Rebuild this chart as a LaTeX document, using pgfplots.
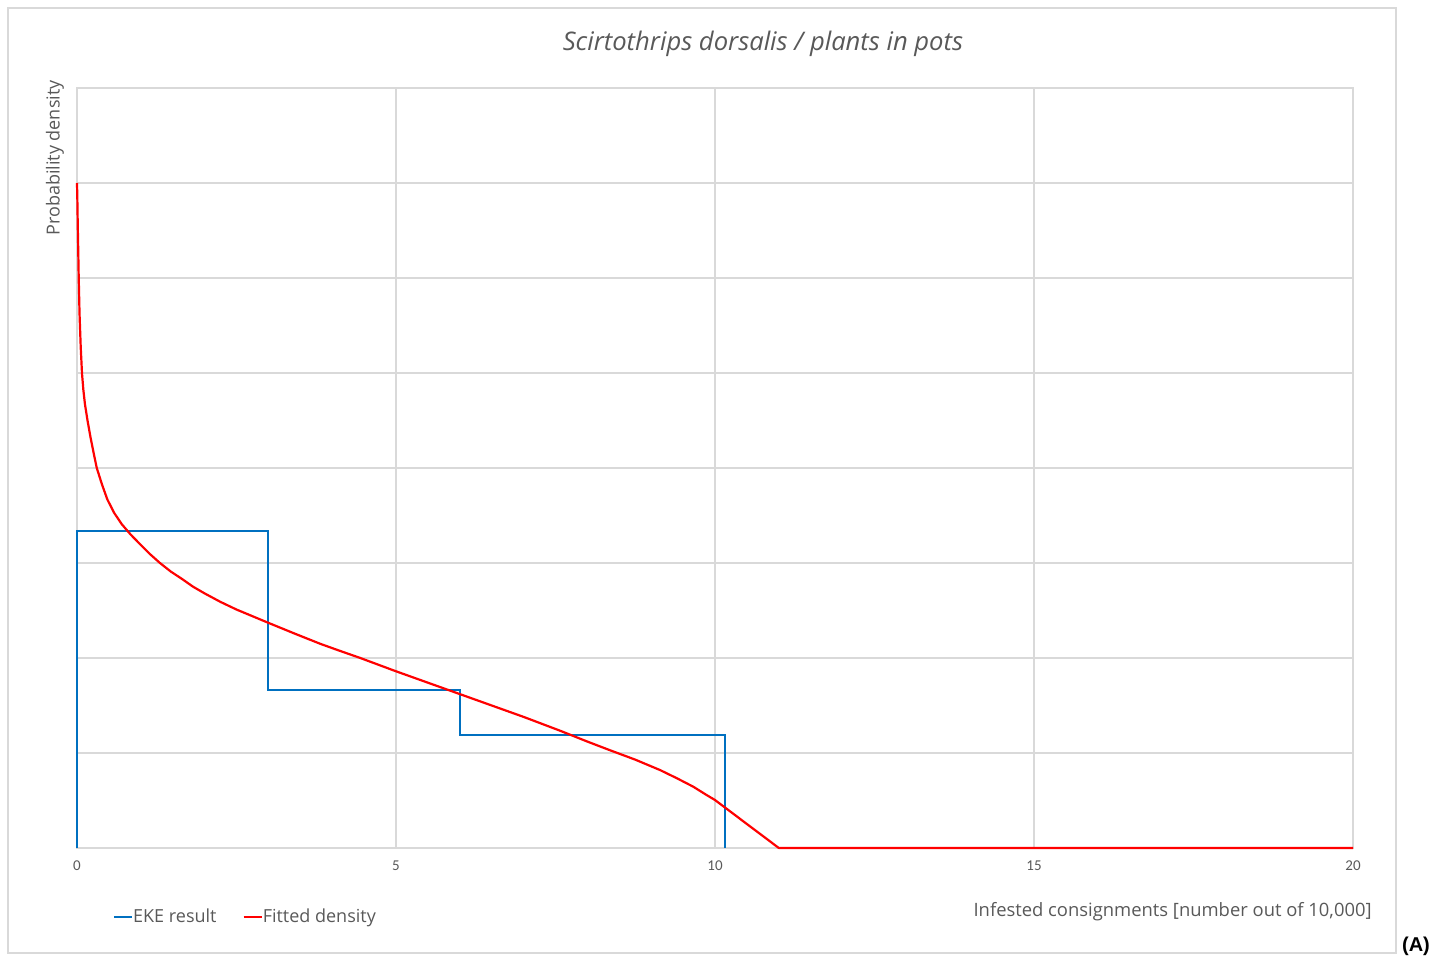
\documentclass[border=0pt]{standalone}
\usepackage{fontspec}
\setmainfont{Open Sans}
\newfontfamily\tickfont{Carlito}
\newfontfamily\boldfont{Liberation Sans}
\usepackage{pgfplots}
\pgfplotsset{compat=1.18}
\definecolor{gridgray}{HTML}{D9D9D9}
\definecolor{txtgray}{HTML}{595959}
\definecolor{ekeblue}{HTML}{0070C0}
\definecolor{fitred}{HTML}{FF0000}
\begin{document}
\begin{tikzpicture}
\useasboundingbox (0,0) rectangle (718.5pt,481pt);
\draw[gridgray, line width=0.6pt] (4pt,4.5pt) rectangle (698pt,477pt);
\begin{axis}[
  at={(38.5pt,57pt)}, anchor=south west,
  width=638pt, height=380pt, scale only axis,
  xmin=0, xmax=20, ymin=0, ymax=8,
  xtick={0,5,10,15,20},
  ytick={0,1,...,8}, yticklabels={},
  grid=major,
  major grid style={gridgray, line width=0.6pt},
  axis line style={gridgray, line width=0.6pt},
  tick style={draw=none},
  /pgf/number format/assume math mode=true,
  xticklabel style={font=\tickfont\fontsize{7.5}{9}\selectfont, text=txtgray, yshift=-3pt},
  legend style={at={(0.0282,-0.0908)}, anchor=west, draw=none, fill=none,
    font=\fontsize{9}{11}\selectfont, text=txtgray, legend columns=2,
    /tikz/every even column/.append style={column sep=11pt},
    inner sep=0pt, outer sep=0pt},
  legend image code/.code={\draw[#1] (0pt,0pt) -- (9pt,0pt);},
  clip=false,
]
\addplot[ekeblue, line width=1.1pt, line join=miter] coordinates {
 (0,0) (0,3.337) (3,3.337) (3,1.663) (6,1.663) (6,1.19) (10.16,1.19) (10.16,0)
};
\addlegendentry{\hspace{-2pt}EKE result}
\addplot[fitred, line width=1.1pt, line join=round] coordinates {
 (0,7.0) (0.005,6.85) (0.012,6.55) (0.02,6.27) (0.027,6.0) (0.04,5.62) (0.058,5.28)
 (0.078,5.0) (0.1,4.82) (0.125,4.67) (0.165,4.5) (0.21,4.33) (0.26,4.16) (0.31,4.0)
 (0.39,3.83) (0.475,3.67) (0.58,3.53) (0.7,3.41) (0.84,3.30) (1.0,3.19) (1.15,3.09)
 (1.3,3.0) (1.47,2.91) (1.65,2.83) (1.82,2.75) (2.0,2.68) (2.25,2.59) (2.5,2.51)
 (2.75,2.44) (3.0,2.37) (3.4,2.26) (3.81,2.15) (4.1,2.08) (4.44,2.0) (5,1.86)
 (5.5,1.74) (6,1.62) (6.5,1.50) (7,1.38) (7.57,1.235) (8.0,1.12) (8.35,1.03)
 (8.75,0.93) (9.14,0.82) (9.4,0.735) (9.66,0.645) (9.85,0.565) (10,0.505)
 (11,0) (20,0)
};
\addlegendentry{\hspace{-2pt}Fitted density}
\end{axis}
\node[font=\itshape\fontsize{12.8}{15}\selectfont, text=txtgray] at (381.5pt,459pt) {Scirtothrips dorsalis / plants in pots};
\node[rotate=90, anchor=east, font=\fontsize{9}{11}\selectfont, text=txtgray, inner sep=0pt] at (27.5pt,441pt) {Probability density};
\node[anchor=east, font=\fontsize{9.2}{11}\selectfont, text=txtgray, inner sep=0pt] at (686pt,25pt) {Infested consignments [number out of 10,000]};
\node[font=\boldfont\bfseries\fontsize{10}{12}\selectfont, inner sep=0pt] at (708pt,8pt) {(A)};
\end{tikzpicture}
\end{document}
